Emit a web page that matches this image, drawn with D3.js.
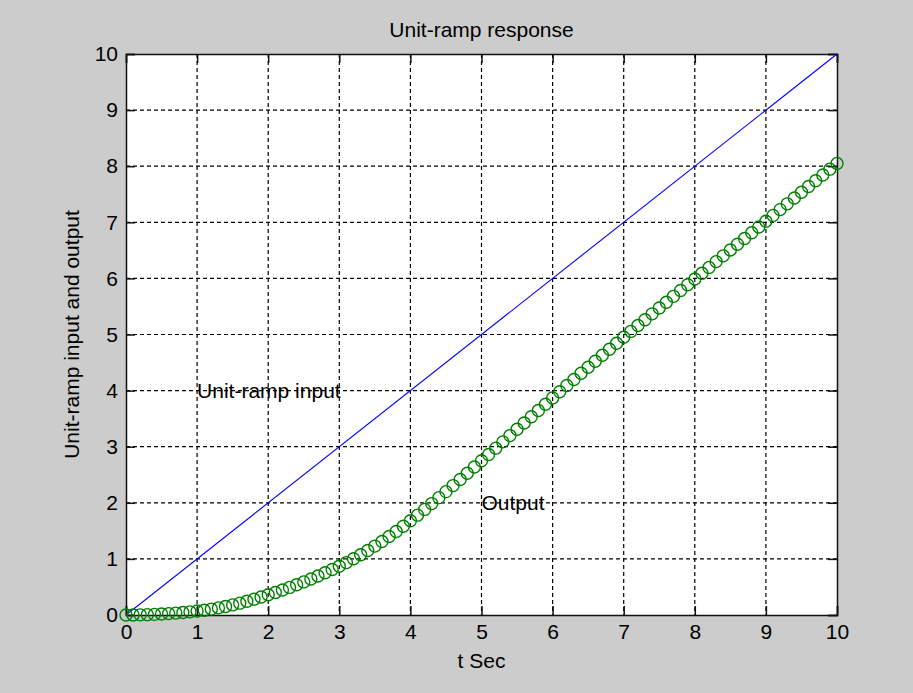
<!DOCTYPE html>
<html>
<head>
<meta charset="utf-8">
<script src="https://cdn.jsdelivr.net/npm/d3@7/dist/d3.min.js"></script>
<style>
  html, body { margin: 0; padding: 0; background: #cccccc; }
  svg { display: block; }
  text { font-family: "Liberation Sans", Arial, sans-serif; fill: #000; }
</style>
</head>
<body>
<div id="chart"></div>
<script>
const width = 913, height = 693;

// sample times (s) and ramp-response output
const tSec = [
  0.0, 0.1, 0.2, 0.3, 0.4, 0.5, 0.6, 0.7, 0.8, 0.9,
  1.0, 1.1, 1.2, 1.3, 1.4, 1.5, 1.6, 1.7, 1.8, 1.9,
  2.0, 2.1, 2.2, 2.3, 2.4, 2.5, 2.6, 2.7, 2.8, 2.9,
  3.0, 3.1, 3.2, 3.3, 3.4, 3.5, 3.6, 3.7, 3.8, 3.9,
  4.0, 4.1, 4.2, 4.3, 4.4, 4.5, 4.6, 4.7, 4.8, 4.9,
  5.0, 5.1, 5.2, 5.3, 5.4, 5.5, 5.6, 5.7, 5.8, 5.9,
  6.0, 6.1, 6.2, 6.3, 6.4, 6.5, 6.6, 6.7, 6.8, 6.9,
  7.0, 7.1, 7.2, 7.3, 7.4, 7.5, 7.6, 7.7, 7.8, 7.9,
  8.0, 8.1, 8.2, 8.3, 8.4, 8.5, 8.6, 8.7, 8.8, 8.9,
  9.0, 9.1, 9.2, 9.3, 9.4, 9.5, 9.6, 9.7, 9.8, 9.9,
  10.0
];
const output = [
  0.000, 0.001, 0.003, 0.006, 0.011, 0.017, 0.025, 0.034, 0.044, 0.056,
  0.070, 0.086, 0.105, 0.127, 0.152, 0.180, 0.211, 0.245, 0.282, 0.320,
  0.360, 0.402, 0.446, 0.492, 0.540, 0.590, 0.642, 0.696, 0.752, 0.810,
  0.870, 0.934, 1.002, 1.074, 1.149, 1.228, 1.311, 1.398, 1.488, 1.582,
  1.680, 1.780, 1.882, 1.986, 2.092, 2.199, 2.307, 2.416, 2.526, 2.637,
  2.750, 2.862, 2.974, 3.086, 3.198, 3.310, 3.422, 3.534, 3.646, 3.758,
  3.870, 3.980, 4.090, 4.199, 4.308, 4.416, 4.524, 4.631, 4.738, 4.844,
  4.950, 5.055, 5.160, 5.264, 5.368, 5.472, 5.576, 5.680, 5.783, 5.886,
  5.990, 6.093, 6.196, 6.299, 6.402, 6.505, 6.608, 6.711, 6.814, 6.917,
  7.020, 7.123, 7.226, 7.329, 7.432, 7.535, 7.638, 7.741, 7.844, 7.947,
  8.050
];

// unit-ramp input r(t) = t, straight line
const inputT = [0, 10];
const inputR = [0, 10];

const xTicks = [0, 1, 2, 3, 4, 5, 6, 7, 8, 9, 10];
const yTicks = [0, 1, 2, 3, 4, 5, 6, 7, 8, 9, 10];

const labels = [
  { text: "Unit-ramp input", x: 1, y: 4 },
  { text: "Output", x: 5, y: 2 }
];

const margin = { top: 54, right: 76, bottom: 78, left: 126 };
const innerW = width - margin.left - margin.right;
const innerH = height - margin.top - margin.bottom;
const fontSize = 21;

const svg = d3.select("#chart")
  .append("svg")
  .attr("width", width)
  .attr("height", height);

svg.append("rect")
  .attr("width", width)
  .attr("height", height)
  .attr("fill", "#cccccc");

const g = svg.append("g")
  .attr("transform", `translate(${margin.left},${margin.top})`);

const x = d3.scaleLinear().domain([0, 10]).range([0, innerW]);
const y = d3.scaleLinear().domain([0, 10]).range([innerH, 0]);

// white plot area
g.append("rect")
  .attr("width", innerW)
  .attr("height", innerH)
  .attr("fill", "#fff");

// dashed grid
g.append("g")
  .selectAll("line")
  .data(xTicks.slice(1, -1))
  .join("line")
  .attr("x1", d => x(d)).attr("x2", d => x(d))
  .attr("y1", 0).attr("y2", innerH)
  .attr("stroke", "#000")
  .attr("stroke-width", 1.2)
  .attr("stroke-dasharray", "4,3");

g.append("g")
  .selectAll("line")
  .data(yTicks.slice(1, -1))
  .join("line")
  .attr("x1", 0).attr("x2", innerW)
  .attr("y1", d => y(d)).attr("y2", d => y(d))
  .attr("stroke", "#000")
  .attr("stroke-width", 1.2)
  .attr("stroke-dasharray", "4,3");

// axes: inward ticks on all four sides
const tickLen = 9;
const xAxisB = d3.axisBottom(x).tickValues(xTicks).tickSize(-tickLen).tickPadding(9);
const xAxisT = d3.axisTop(x).tickValues(xTicks).tickSize(-tickLen).tickFormat("");
const yAxisL = d3.axisLeft(y).tickValues(yTicks).tickSize(-tickLen).tickPadding(8);
const yAxisR = d3.axisRight(y).tickValues(yTicks).tickSize(-tickLen).tickFormat("");

function styleAxis(sel) {
  sel.select(".domain").attr("stroke", "#111").attr("stroke-width", 1.5);
  sel.selectAll(".tick line").attr("stroke", "#111").attr("stroke-width", 1.5);
  sel.selectAll(".tick text")
    .attr("font-size", fontSize)
    .attr("font-family", "Liberation Sans, Arial, sans-serif")
    .attr("fill", "#111");
}

g.append("g").attr("transform", `translate(0,${innerH})`).call(xAxisB).call(styleAxis);
g.append("g").call(xAxisT).call(styleAxis);
g.append("g").call(yAxisL).call(styleAxis);
g.append("g").attr("transform", `translate(${innerW},0)`).call(yAxisR).call(styleAxis);

// unit-ramp input (blue line)
const inputPts = inputT.map((t, i) => [t, inputR[i]]);
g.append("path")
  .datum(inputPts)
  .attr("fill", "none")
  .attr("stroke", "#0000ff")
  .attr("stroke-width", 1.1)
  .attr("d", d3.line().x(d => x(d[0])).y(d => y(d[1])));

// output (green circles)
const outPts = tSec.map((t, i) => [t, output[i]]);
g.append("g")
  .selectAll("circle")
  .data(outPts)
  .join("circle")
  .attr("cx", d => x(d[0]))
  .attr("cy", d => y(d[1]))
  .attr("r", 6)
  .attr("fill", "none")
  .attr("stroke", "#008000")
  .attr("stroke-width", 1.4);

// text annotations
g.append("g")
  .selectAll("text")
  .data(labels)
  .join("text")
  .attr("x", d => x(d.x))
  .attr("y", d => y(d.y))
  .attr("dy", "0.35em")
  .attr("font-size", fontSize)
  .attr("fill", "#111")
  .text(d => d.text);

// title and axis labels
svg.append("text")
  .attr("x", margin.left + innerW / 2)
  .attr("y", 37)
  .attr("text-anchor", "middle")
  .attr("font-size", fontSize)
  .attr("fill", "#111")
  .text("Unit-ramp response");

svg.append("text")
  .attr("x", margin.left + innerW / 2)
  .attr("y", 668)
  .attr("text-anchor", "middle")
  .attr("font-size", fontSize)
  .attr("fill", "#111")
  .text("t Sec");

svg.append("text")
  .attr("transform", `translate(79,${margin.top + innerH / 2}) rotate(-90)`)
  .attr("text-anchor", "middle")
  .attr("font-size", fontSize)
  .attr("fill", "#111")
  .text("Unit-ramp input and output");
</script>
</body>
</html>
